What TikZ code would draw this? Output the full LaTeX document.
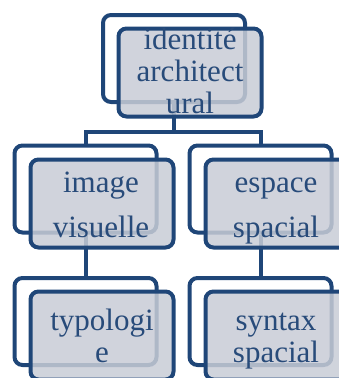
\documentclass[tikz,border=0pt]{standalone}
\usepackage{fontspec}
\setmainfont{Liberation Serif}
\definecolor{frameblue}{RGB}{31,70,120}
\definecolor{txtblue}{RGB}{40,75,122}
\definecolor{boxfill}{RGB}{200,204,214}
\begin{document}
\begin{tikzpicture}[x=1pt,y=-1pt,
  backbox/.style={draw=frameblue, line width=4pt, fill=white, rounded corners=8pt,
    minimum width=142pt, minimum height=87pt, inner sep=0pt},
  frontbox/.style={draw=frameblue, line width=4pt, fill=boxfill, fill opacity=0.85,
    rounded corners=8pt, minimum width=143pt, minimum height=88pt, inner sep=0pt},
  txt/.style={text=txtblue, align=center, inner sep=0pt, anchor=base,
    font=\fontsize{31}{32}\selectfont},
  conn/.style={draw=frameblue, line width=4pt}]
\useasboundingbox (0,0) rectangle (339,378);
\clip (0,0) rectangle (339,378);
% back frames
\node[backbox] (tb) at (174,58.5) {};
\node[backbox] (lb) at (85.5,189) {};
\node[backbox] (rb) at (260.5,189) {};
\node[backbox] (lb3) at (85.5,321.5) {};
\node[backbox] (rb3) at (260.5,321.5) {};
% connectors
\coordinate (bus) at (0,132);
\draw[conn] (tb.south) -- (tb.south |- bus);
\draw[conn] (lb.north) |- (tb.south |- bus) -| (rb.north);
\draw[conn] (lb.south) -- (lb3.north);
\draw[conn] (rb.south) -- (rb3.north);
% front boxes
\node[frontbox] (tf) at (190,72.5) {};
\node[frontbox] (lf) at (102,203.5) {};
\node[frontbox] (rf) at (277,203.5) {};
\node[frontbox] (lf3) at (102,335.5) {};
\node[frontbox] (rf3) at (277,335.5) {};
% texts (base anchor = last line baseline)
\node[txt] (tt) at (190,113) {identité\\architect\\ural};
\node[txt] (lt) at (101,237) {image\\[13pt]visuelle};
\node[txt] (rt) at (276,237) {espace\\[13pt]spacial};
\node[txt] (lt3) at (102,362) {typologi\\e};
\node[txt] (rt3) at (276,362) {syntax\\spacial};
\end{tikzpicture}
\end{document}
